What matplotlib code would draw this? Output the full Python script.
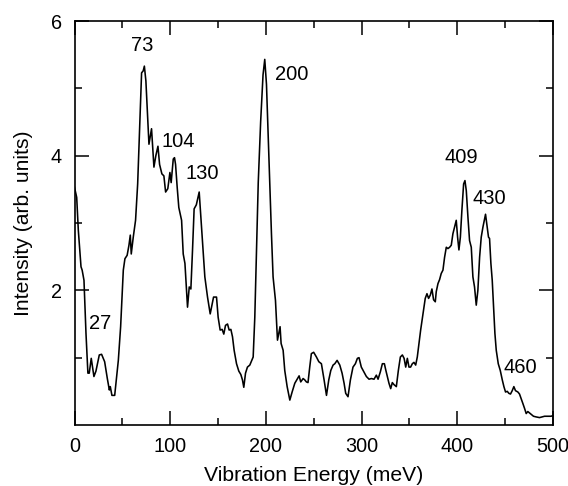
import matplotlib
matplotlib.use("Agg")
import matplotlib.pyplot as plt
from matplotlib.ticker import FixedLocator

plt.rcParams['font.family'] = ['Liberation Sans', 'DejaVu Sans']

energy = [0, 2.3, 4, 6.8, 8, 9.9, 12, 14, 15.4, 17.5, 20.3, 22.4, 25.9, 28.3, 31.5, 34.3, 36.4, 37.4, 39.1, 42,
          45.8, 48.2, 51, 52.7, 55, 56.9, 58.3, 59.3, 61.4, 63.8, 66, 68.4, 70.1, 71.8, 73, 74.6, 75.6, 77.8,
          80.5, 83, 85, 87.2, 88.9, 91.3, 93.4, 95.2, 97.5, 99.7, 101, 103.2, 104.5, 105.6, 107.3, 109, 110.5,
          111.9, 113.6, 115.4, 118.1, 119.9, 121.6, 123.3, 125, 127.3, 130.3, 132.7, 134.4, 136.2, 139, 141.8,
          143.9, 145.3, 148.4, 150.1, 152.2, 154.3, 156, 157.8, 159.9, 161.6, 163.4, 165.1, 166.8, 169.3, 171.7,
          173.8, 175.5, 176.9, 178.7, 180.7, 183.2, 185, 186.7, 188.4, 190.2, 192, 194.5, 197, 198.8, 200.6,
          202.3, 204.1, 205.8, 207.5, 210, 212.1, 213.5, 214.8, 215.9, 218, 219.7, 222.2, 225, 227.4, 230.2,
          233, 234.7, 236.4, 238.9, 240.6, 242.3, 244, 245.8, 247.5, 249.9, 252.8, 255.3, 258, 260.8, 263.3,
          265.7, 267.8, 270.2, 272, 274.4, 277.2, 279.6, 281.7, 283.4, 285.8, 288.3, 291, 293.5, 295.6, 297.3,
          299.7, 302, 305, 307.8, 310.2, 313, 315.4, 317.2, 319.6, 321.7, 323.8, 325.2, 326.9, 328.6, 330.4,
          332.1, 333.8, 336.3, 338.4, 340.5, 342.6, 344.4, 346.1, 347.8, 349.5, 351.2, 353, 354.7, 356.5,
          358.2, 359.9, 361.7, 364.1, 366.5, 368.3, 370, 371.8, 373.5, 375.2, 377, 378, 379.8, 381.5, 383.2,
          385, 386.7, 388.5, 390.2, 392, 393.7, 395.4, 397.2, 398.9, 400.3, 401.7, 403.2, 404.8, 406.6, 408,
          409.4, 411.1, 412.8, 414.6, 416.3, 418, 419.8, 421.5, 423.3, 425, 426.8, 428.2, 429.5, 431.2, 432.6,
          433.7, 435.1, 436.5, 437.9, 439.3, 440.7, 442.8, 444.9, 447, 448.7, 450.4, 452.2, 453.9, 455.6,
          457.4, 459.1, 460.8, 463.3, 465, 466.8, 468.5, 470.2, 472, 473.7, 475.4, 477.2, 479.6, 482.4, 485.9,
          488.7, 491.2, 494.7, 498, 500]
intensity = [3.53, 3.38, 2.89, 2.35, 2.30, 2.15, 1.36, 0.77, 0.77, 0.99, 0.72, 0.80, 1.04, 1.05, 0.94, 0.69, 0.52,
             0.57, 0.44, 0.44, 0.96, 1.46, 2.30, 2.47, 2.52, 2.67, 2.82, 2.54, 2.79, 3.04, 3.58, 4.57, 5.23, 5.26,
             5.33, 5.11, 4.81, 4.17, 4.40, 3.83, 4.00, 4.14, 3.87, 3.73, 3.70, 3.46, 3.51, 3.75, 3.60, 3.95, 3.97,
             3.87, 3.53, 3.23, 3.13, 3.04, 2.54, 2.40, 1.75, 2.05, 2.02, 2.59, 3.21, 3.27, 3.46, 2.94, 2.59, 2.20,
             1.90, 1.65, 1.80, 1.90, 1.90, 1.60, 1.41, 1.42, 1.35, 1.48, 1.50, 1.41, 1.42, 1.31, 1.11, 0.91, 0.80,
             0.75, 0.67, 0.56, 0.77, 0.86, 0.89, 0.95, 1.01, 1.60, 2.59, 3.60, 4.50, 5.20, 5.43, 5.06, 4.32, 3.58,
             2.84, 2.20, 1.85, 1.26, 1.36, 1.46, 1.21, 1.11, 0.81, 0.57, 0.37, 0.49, 0.62, 0.69, 0.73, 0.64, 0.69,
             0.67, 0.64, 0.63, 0.86, 1.06, 1.08, 1.01, 0.94, 0.91, 0.67, 0.44, 0.67, 0.81, 0.89, 0.91, 0.96, 0.89,
             0.77, 0.62, 0.47, 0.42, 0.67, 0.86, 0.91, 0.99, 1.00, 0.86, 0.80, 0.72, 0.68, 0.69, 0.68, 0.74, 0.68,
             0.79, 0.91, 0.91, 0.82, 0.72, 0.62, 0.54, 0.63, 0.60, 0.57, 0.81, 1.01, 1.04, 0.99, 0.86, 0.99, 0.86,
             0.86, 0.91, 0.93, 0.89, 1.01, 1.21, 1.41, 1.65, 1.88, 1.95, 1.88, 1.93, 2.02, 1.86, 1.83, 1.98, 2.10,
             2.16, 2.25, 2.30, 2.49, 2.64, 2.62, 2.64, 2.67, 2.84, 2.94, 3.04, 2.79, 2.60, 2.79, 3.19, 3.58, 3.63,
             3.48, 3.09, 2.74, 2.64, 2.20, 2.05, 1.78, 2.00, 2.49, 2.79, 2.94, 3.04, 3.13, 2.94, 2.79, 2.77, 2.40,
             2.15, 1.75, 1.36, 1.11, 0.91, 0.81, 0.67, 0.57, 0.49, 0.50, 0.47, 0.46, 0.51, 0.57, 0.51, 0.49, 0.46,
             0.39, 0.32, 0.25, 0.17, 0.20, 0.18, 0.16, 0.13, 0.12, 0.11, 0.12, 0.13, 0.13, 0.13, 0.14]

peak_labels = ["27", "73", "104", "130", "200", "409", "430", "460"]
label_x = [27.1, 70.5, 108.5, 133, 226.7, 404.2, 433, 466.3]
label_y = [1.51, 5.63, 4.21, 3.73, 5.20, 3.98, 3.37, 0.85]

x_major = [0, 100, 200, 300, 400, 500]
x_minor = [50, 150, 250, 350, 450]
y_major = [2, 4, 6]
y_minor = [1, 3, 5]

fig = plt.figure(figsize=(5.68, 4.86), dpi=100)
ax = fig.add_axes([74.5 / 568, 1 - 425 / 486, (553 - 74.5) / 568, (425 - 21) / 486])

ax.plot(energy, intensity, color='black', linewidth=1.15)

for lab, lx, ly in zip(peak_labels, label_x, label_y):
    ax.text(lx, ly, lab, ha='center', va='center', fontsize=14.5)

ax.set_xlim(0, 500)
ax.set_ylim(0, 6)
ax.xaxis.set_major_locator(FixedLocator(x_major))
ax.xaxis.set_minor_locator(FixedLocator(x_minor))
ax.yaxis.set_major_locator(FixedLocator(y_major))
ax.yaxis.set_minor_locator(FixedLocator(y_minor))

ax.tick_params(which='both', direction='in', top=True, right=True, labelsize=14.3, width=1.1)
ax.tick_params(which='major', length=10, pad=9)
ax.tick_params(which='minor', length=5)
for s in ax.spines.values():
    s.set_linewidth(1.2)

ax.set_xlabel('Vibration Energy (meV)', fontsize=15.2)
ax.set_ylabel('Intensity (arb. units)', fontsize=15.2)
ax.xaxis.set_label_coords(0.5, -(466 - 425) / 404)
ax.yaxis.set_label_coords((33 - 74.5) / 478.5, 0.5)

fig.savefig('out.png', dpi=100)
